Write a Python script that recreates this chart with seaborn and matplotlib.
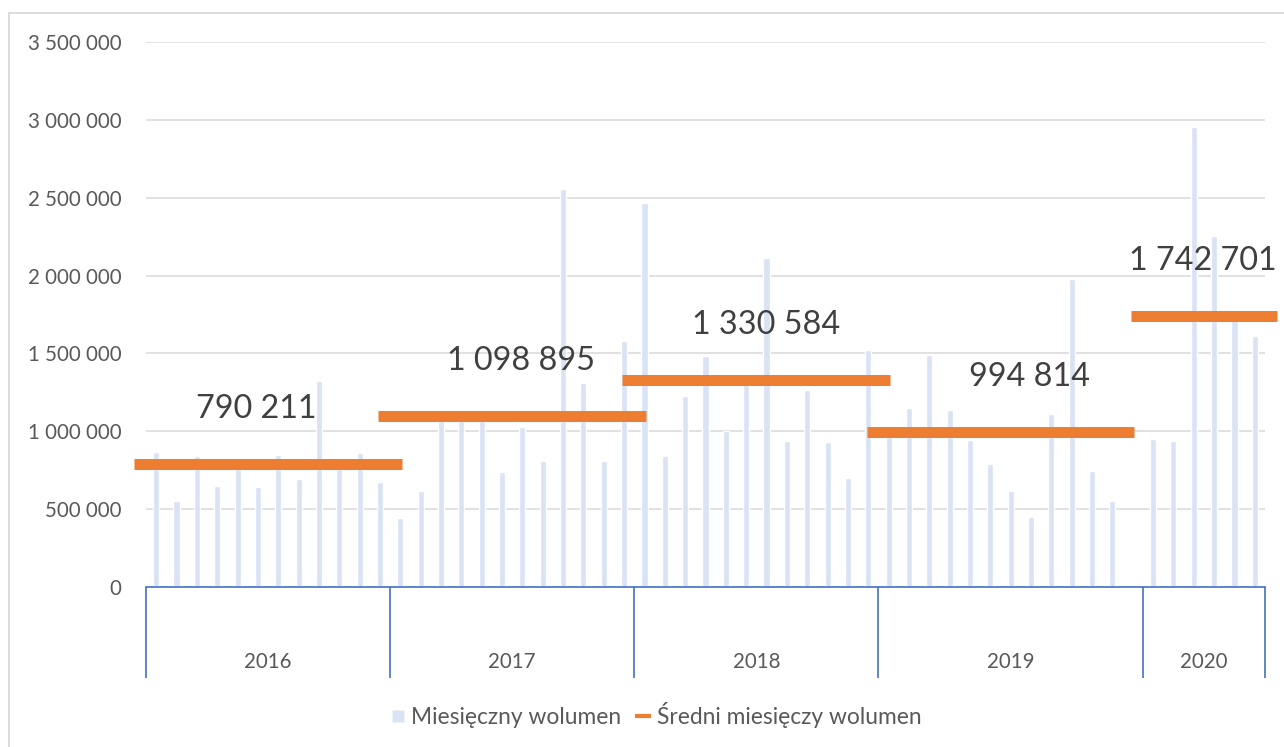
import numpy as np
import pandas as pd
import matplotlib.pyplot as plt
import seaborn as sns
from matplotlib.lines import Line2D
from matplotlib.transforms import blended_transform_factory

# dane miesięczne, 2019 ma jedną pustą kategorię na końcu
years = ["2016", "2017", "2018", "2019", "2020"]
months_per_year = [12, 12, 12, 13, 6]
vol_2016 = [870000, 554000, 840000, 648000, 770000, 642000, 847000, 695000, 1322000, 760000, 860000, 674000]
vol_2017 = [443000, 616000, 1090000, 1100000, 1095000, 740000, 1025000, 809000, 2559000, 1311000, 809000, 1579000]
vol_2018 = [2469000, 843000, 1226000, 1481000, 999000, 1350000, 2110000, 937000, 1262000, 931000, 698000, 1523000]
vol_2019 = [975000, 1151000, 1489000, 1136000, 943000, 789000, 616000, 449000, 1110000, 1981000, 744000, 554000, np.nan]
vol_2020 = [950000, 935000, 2952000, 2253000, 1755000, 1611000]
avg_volume = [790211, 1098895, 1330584, 994814, 1742701]
avg_months = [12, 12, 12, 12, 6]  # ile miesięcy obejmuje średnia

BLUE = "#DAE3F3"
ORANGE = "#ED7D31"
AXIS_BLUE = "#4472C4"
GRID = "#D9D9D9"
TXT = "#595959"

sns.set_theme(style="white")
plt.rcParams["font.family"] = ["Lato", "DejaVu Sans"]

all_vol = vol_2016 + vol_2017 + vol_2018 + vol_2019 + vol_2020
labels, year_col = [], []
for y, n in zip(years, months_per_year):
    for m in range(n):
        labels.append(f"{y}-{m + 1:02d}")
        year_col.append(y)
df = pd.DataFrame({"miesiac": labels, "rok": year_col, "wolumen": all_vol})

fig = plt.figure(figsize=(12.84, 7.47), dpi=100)
ax = fig.add_axes([146 / 1284, 1 - 587 / 747, (1265 - 146) / 1284, (587 - 42) / 747])

sns.barplot(data=df, x="miesiac", y="wolumen", order=labels, color=BLUE,
            saturation=1, width=0.3, errorbar=None, ax=ax, zorder=2)

# średnie roczne jako grube poziome kreski
starts = np.concatenate([[0], np.cumsum(months_per_year)[:-1]])
for s, n, avg in zip(starts, avg_months, avg_volume):
    ax.hlines(avg, s - 1.08, s + n - 1 + 1.08, color=ORANGE, linewidth=7.9,
              zorder=3, clip_on=False, capstyle="butt")

# etykiety średnich
label_x = [4.93, 17.93, 29.97, 42.94, 51.44]
for lx, avg in zip(label_x, avg_volume):
    txt = f"{avg:,}".replace(",", " ")
    ax.annotate(txt, (lx, avg), xytext=(0, 39.5), textcoords="offset points",
                ha="center", va="center", fontsize=23.3, color="#404040", zorder=4)

ax.set_xlim(-0.5, len(labels) - 0.5)
ax.set_ylim(0, 3500000)
ax.set_yticks(np.arange(0, 3500001, 500000))
ax.set_yticklabels([f"{v:,}".replace(",", " ") for v in range(0, 3500001, 500000)])
ax.tick_params(axis="y", length=0, pad=17.5, labelsize=14.8, labelcolor=TXT)
ax.set_xticks([])
ax.set_xlabel("")
ax.set_ylabel("")
ax.yaxis.grid(True, color=GRID, linewidth=1.1, zorder=0)
ax.set_axisbelow(True)
for side in ["top", "right", "left"]:
    ax.spines[side].set_visible(False)
ax.spines["bottom"].set_color(AXIS_BLUE)
ax.spines["bottom"].set_linewidth(1.2)

# podział osi na lata
trans = blended_transform_factory(ax.transData, ax.transAxes)
bounds = np.concatenate([[0], np.cumsum(months_per_year)]) - 0.5
ax.vlines(bounds, -0.167, 0, color=AXIS_BLUE, linewidth=1.2, transform=trans, clip_on=False)
for i, y in enumerate(years):
    ax.text((bounds[i] + bounds[i + 1]) / 2, -0.1376, y, transform=trans,
            ha="center", va="center", fontsize=14.8, color=TXT)

# legenda
handles = [Line2D([0], [0], linestyle="none", marker="s", markersize=8,
                  markerfacecolor=BLUE, markeredgecolor="none", label="Miesięczny wolumen"),
           Line2D([0], [0], linestyle="none", marker="_", markersize=11, markeredgewidth=3,
                  color=ORANGE, label="Średni miesięczy wolumen")]
fig.legend(handles=handles, loc="center", bbox_to_anchor=(0.5105, 0.043), ncol=2,
           frameon=False, fontsize=16.4, labelcolor=TXT, handlelength=0.7,
           handletextpad=0.25, columnspacing=0.6)

# ramka wykresu (widoczna tylko z lewej i u góry)
fig.add_artist(Line2D([8.5 / 1284, 8.5 / 1284], [0, 1 - 13 / 747], color=GRID, linewidth=1.3))
fig.add_artist(Line2D([8.5 / 1284, 1], [1 - 13 / 747, 1 - 13 / 747], color=GRID, linewidth=1.3))

fig.savefig("out.png", dpi=100, facecolor="white")
